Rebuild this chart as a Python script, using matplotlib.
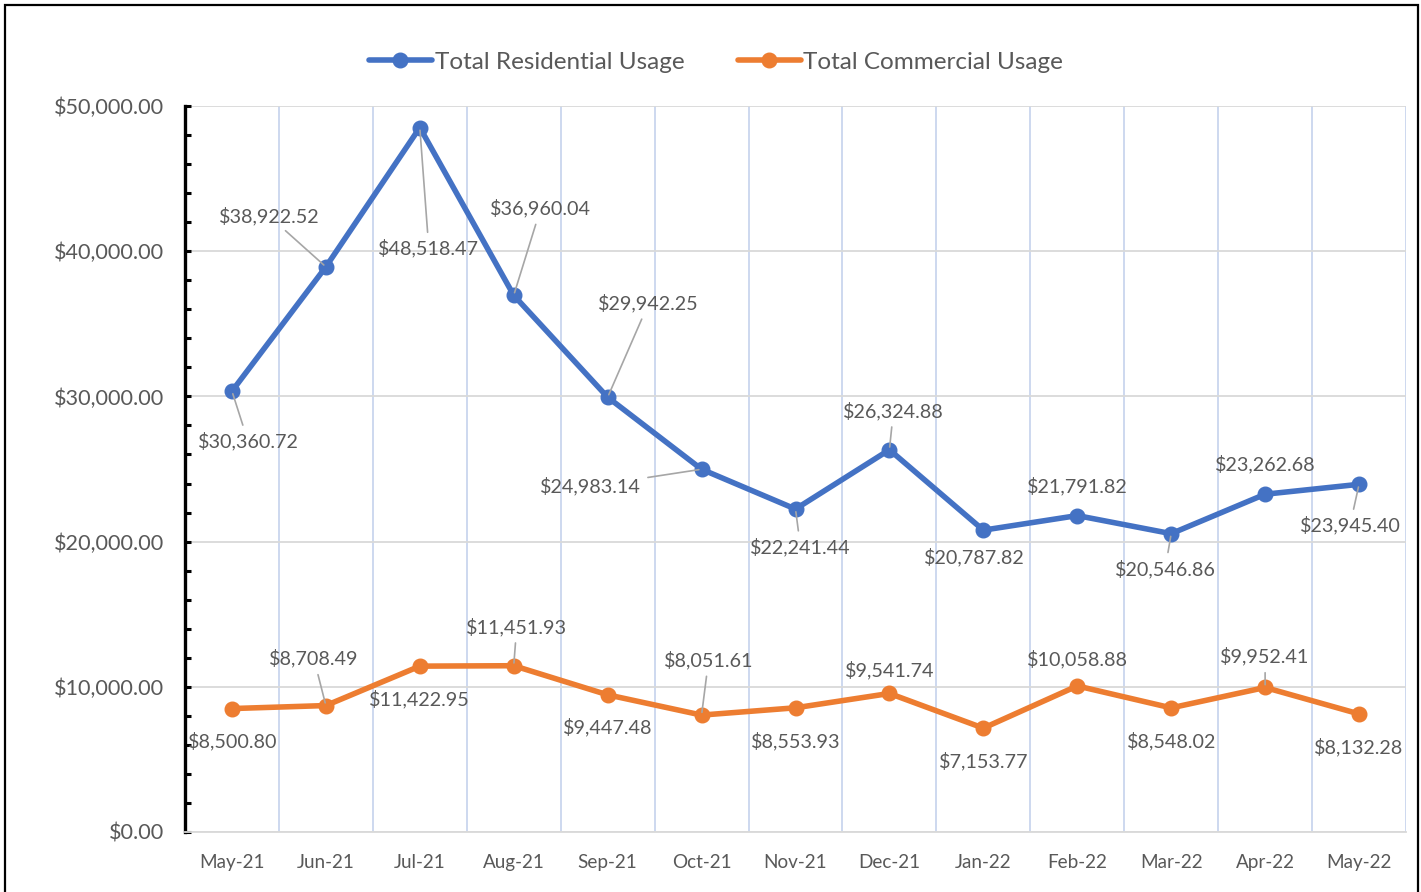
import numpy as np
import matplotlib.pyplot as plt
from matplotlib.ticker import MultipleLocator, FuncFormatter
from matplotlib.patches import Rectangle

months = ["May-21", "Jun-21", "Jul-21", "Aug-21", "Sep-21", "Oct-21", "Nov-21",
          "Dec-21", "Jan-22", "Feb-22", "Mar-22", "Apr-22", "May-22"]
residential = [30360.72, 38922.52, 48518.47, 36960.04, 29942.25, 24983.14, 22241.44,
               26324.88, 20787.82, 21791.82, 20546.86, 23262.68, 23945.40]
commercial = [8500.80, 8708.49, 11422.95, 11451.93, 9447.48, 8051.61, 8553.93,
              9541.74, 7153.77, 10058.88, 8548.02, 9952.41, 8132.28]

# label offsets in pixels (dx, dy up) and whether a leader line is drawn
res_off = [(16, -50, 1), (-57, 51, 1), (9, -121, 1), (27, 87, 1), (41, 94, 1),
           (-111, -17, 1), (5, -38, 1), (4, 39, 1), (-9, -27, 0), (0, 30, 0),
           (-6, -35, 1), (0, 30, 0), (-9, -41, 1)]
com_off = [(1, -32, 0), (-12, 47, 1), (0, -33, 0), (3, 39, 1), (0, -32, 0),
           (7, 55, 1), (0, -33, 0), (0, 23, 0), (0, -33, 0), (0, 27, 0),
           (0, -33, 0), (0, 31, 1), (0, -33, 0)]

BLUE = "#4472C4"
ORANGE = "#ED7D31"
TXT = "#595959"

plt.rcParams['font.family'] = ['Lato', 'DejaVu Sans']

fig = plt.figure(figsize=(14.21, 8.92), dpi=100)
W, H = 1421, 892
ax = fig.add_axes([185 / W, (H - 832) / H, (1406 - 185) / W, (832 - 106) / H])

x = np.arange(len(months))
ax.plot(x, residential, color=BLUE, lw=4, marker='o', ms=10.5,
        label="Total Residential Usage", zorder=3, solid_capstyle='round')
ax.plot(x, commercial, color=ORANGE, lw=4, marker='o', ms=10.5,
        label="Total Commercial Usage", zorder=3, solid_capstyle='round')


def fmt(v):
    return "${:,.2f}".format(v)


for vals, offs in ((residential, res_off), (commercial, com_off)):
    for i, (v, (dx, dy, lead)) in enumerate(zip(vals, offs)):
        kw = {}
        if lead:
            kw['arrowprops'] = dict(arrowstyle='-', color='#a6a6a6', lw=1.2,
                                    shrinkA=3, shrinkB=2)
        ax.annotate(fmt(v), (i, v), xytext=(dx, dy), textcoords='offset pixels',
                    ha='center', va='center', fontsize=14.2, color=TXT, zorder=4, **kw)

ax.set_xlim(-0.5, len(months) - 0.5)
ax.set_ylim(0, 50000)
ax.set_xticks(x)
ax.set_xticklabels(months)
ax.set_xticks(np.arange(len(months)) + 0.5, minor=True)
ax.yaxis.set_major_locator(MultipleLocator(10000))
ax.yaxis.set_minor_locator(MultipleLocator(2000))
ax.yaxis.set_major_formatter(FuncFormatter(lambda v, p: "${:,.2f}".format(v)))

ax.grid(axis='y', which='major', color='#d9d9d9', lw=1.3)
ax.grid(axis='x', which='minor', color='#c9d6ee', lw=1.3)
ax.set_axisbelow(True)

for s in ('top', 'right'):
    ax.spines[s].set_visible(False)
ax.spines['bottom'].set_color('#d9d9d9')
ax.spines['bottom'].set_linewidth(1.3)
ax.spines['left'].set_color('black')
ax.spines['left'].set_linewidth(2.4)

ax.tick_params(axis='x', which='both', length=0, labelsize=13.6, labelcolor=TXT, pad=16)
ax.tick_params(axis='y', which='both', direction='in', length=4.5, width=2.2,
               color='black', labelsize=15.6, labelcolor=TXT, pad=15)

leg = fig.legend(loc='center', bbox_to_anchor=(716 / W, 1 - 62 / H), ncol=2,
                 frameon=False, fontsize=17.5, labelcolor=TXT, handlelength=2.6,
                 handletextpad=0.1, columnspacing=2.2)

fig.patches.append(Rectangle((5 / W, -0.01), (1418 - 5) / W, 1.01 - 5 / H,
                             transform=fig.transFigure, fill=False,
                             edgecolor='black', lw=1.6))

fig.savefig("out.png", dpi=100)
